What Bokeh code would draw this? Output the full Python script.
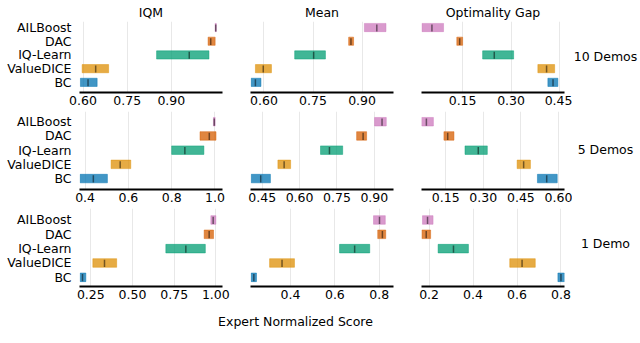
from bokeh.plotting import figure
from bokeh.layouts import column, row
from bokeh.models import ColumnDataSource, FixedTicker, Range1d
from bokeh.core.properties import value
from bokeh.embed import file_html
from bokeh.resources import INLINE

# ---------------- data ----------------
algorithms = ["BC", "ValueDICE", "IQ-Learn", "DAC", "AILBoost"]
colors = ["#0173B2", "#DE8F05", "#029E73", "#D55E00", "#CC78BC"]
metrics = ["IQM", "Mean", "Optimality Gap"]
demo_labels = ["10 Demos", "5 Demos", "1 Demo"]
x_label = "Expert Normalized Score"

# order of values: BC, ValueDICE, IQ-Learn, DAC, AILBoost
# ---- 10 demos
iqm_10_lo = [0.591, 0.597, 0.850, 1.025, 1.049]
iqm_10_pt = [0.617, 0.643, 0.961, 1.034, 1.051]
iqm_10_hi = [0.648, 0.687, 1.028, 1.049, 1.053]
mean_10_lo = [0.561, 0.574, 0.694, 0.859, 0.907]
mean_10_pt = [0.574, 0.598, 0.752, 0.866, 0.945]
mean_10_hi = [0.591, 0.623, 0.788, 0.874, 0.973]
gap_10_lo = [0.414, 0.383, 0.212, 0.132, 0.024]
gap_10_pt = [0.430, 0.410, 0.248, 0.141, 0.055]
gap_10_hi = [0.445, 0.435, 0.308, 0.150, 0.091]
# ---- 5 demos
iqm_5_lo = [0.377, 0.520, 0.800, 0.931, 0.993]
iqm_5_pt = [0.438, 0.562, 0.861, 0.974, 0.997]
iqm_5_hi = [0.503, 0.611, 0.949, 1.005, 1.001]
mean_5_lo = [0.406, 0.513, 0.684, 0.829, 0.901]
mean_5_pt = [0.444, 0.538, 0.720, 0.855, 0.931]
mean_5_hi = [0.483, 0.564, 0.773, 0.869, 0.948]
gap_5_lo = [0.516, 0.435, 0.227, 0.143, 0.054]
gap_5_pt = [0.553, 0.461, 0.280, 0.158, 0.073]
gap_5_hi = [0.595, 0.488, 0.316, 0.183, 0.101]
# ---- 1 demo
iqm_1_lo = [0.186, 0.262, 0.700, 0.930, 0.970]
iqm_1_pt = [0.200, 0.332, 0.820, 0.960, 0.984]
iqm_1_hi = [0.220, 0.405, 0.937, 0.986, 1.000]
mean_1_lo = [0.223, 0.306, 0.621, 0.793, 0.774]
mean_1_pt = [0.235, 0.362, 0.689, 0.814, 0.801]
mean_1_hi = [0.247, 0.418, 0.757, 0.829, 0.827]
gap_1_lo = [0.786, 0.567, 0.241, 0.167, 0.170]
gap_1_pt = [0.800, 0.623, 0.311, 0.187, 0.193]
gap_1_hi = [0.816, 0.683, 0.379, 0.207, 0.218]

# tick values and labels
ticks_iqm_10 = [0.60, 0.75, 0.90]
labels_iqm_10 = ["0.60", "0.75", "0.90"]
ticks_mean_10 = [0.60, 0.75, 0.90]
labels_mean_10 = ["0.60", "0.75", "0.90"]
ticks_gap_10 = [0.15, 0.30, 0.45]
labels_gap_10 = ["0.15", "0.30", "0.45"]
ticks_iqm_5 = [0.4, 0.6, 0.8, 1.0]
labels_iqm_5 = ["0.4", "0.6", "0.8", "1.0"]
ticks_mean_5 = [0.45, 0.60, 0.75, 0.90]
labels_mean_5 = ["0.45", "0.60", "0.75", "0.90"]
ticks_gap_5 = [0.15, 0.30, 0.45, 0.60]
labels_gap_5 = ["0.15", "0.30", "0.45", "0.60"]
ticks_iqm_1 = [0.25, 0.50, 0.75, 1.00]
labels_iqm_1 = ["0.25", "0.50", "0.75", "1.00"]
ticks_mean_1 = [0.4, 0.6, 0.8]
labels_mean_1 = ["0.4", "0.6", "0.8"]
ticks_gap_1 = [0.2, 0.4, 0.6, 0.8]
labels_gap_1 = ["0.2", "0.4", "0.6", "0.8"]

# axis limits
xlim_iqm_10 = (0.588, 1.074)
xlim_mean_10 = (0.559, 0.996)
xlim_gap_10 = (0.0227, 0.4655)
xlim_iqm_5 = (0.374, 1.035)
xlim_mean_5 = (0.403, 0.977)
xlim_gap_5 = (0.0535, 0.624)
xlim_iqm_1 = (0.182, 1.040)
xlim_mean_1 = (0.220, 0.864)
xlim_gap_1 = (0.1655, 0.816)

# ---------------- style / layout ----------------
FONT = "DejaVu Sans"
FS = "12.5px"
BAR_H = 0.6
COL_W = [236, 171, 165]
COL_BL = [79, 14, 14]
COL_BR = [14, 14, 8]
LAB_W = 68
ROW_H = [111, 97, 97]
ROW_TOP = [18, 0, 0]
ROW_BOTTOM = 19
ROW_YR = [(-0.74, 4.44), (-0.77, 4.72), (-0.64, 4.80)]
ROW_LABEL_OFF = [2, -1, -5]


def panel(lo, pt, hi, xlim, ticks, tick_labels, col, r, title=None):
    pos = list(range(len(algorithms)))
    src = ColumnDataSource(dict(
        y=pos, lo=lo, hi=hi, pt=pt, color=colors,
        y0=[v - 7.5 * BAR_H / 16 for v in pos],
        y1=[v + 6 * BAR_H / 16 for v in pos],
    ))
    p = figure(width=COL_W[col], height=ROW_H[r],
               x_range=Range1d(*xlim), y_range=Range1d(*ROW_YR[r]),
               output_backend="svg", toolbar_location=None,
               min_border_left=COL_BL[col], min_border_right=COL_BR[col],
               min_border_top=ROW_TOP[r], min_border_bottom=ROW_BOTTOM,
               title=title)
    if title is None:
        p.title = None
    else:
        p.title.align = "center"
        p.title.text_font = FONT
        p.title.text_font_size = FS
        p.title.text_font_style = "normal"
        p.title.text_color = "black"
        p.title.standoff = 4
        p.title.offset = 0
    p.outline_line_color = None
    p.hbar(y="y", left="lo", right="hi", height=BAR_H, fill_color="color",
           fill_alpha=0.75, line_color="color", line_alpha=0.45, line_width=1,
           source=src)
    p.segment(x0="pt", y0="y0", x1="pt", y1="y1", line_color="black",
              line_alpha=0.5, line_width=1.5, source=src)

    xa = p.xaxis[0]
    xa.ticker = FixedTicker(ticks=ticks)
    xa.major_label_overrides = dict(zip(ticks, tick_labels))
    xa.axis_line_width = 2
    xa.axis_line_color = "black"
    xa.major_tick_out = 0
    xa.major_tick_in = 0
    xa.minor_tick_line_color = None
    xa.major_label_standoff = 3
    xa.major_label_text_font = FONT
    xa.major_label_text_font_size = FS
    xa.major_label_text_color = "black"

    ya = p.yaxis[0]
    if col == 0:
        ya.ticker = FixedTicker(ticks=pos)
        ya.major_label_overrides = {i: a for i, a in zip(pos, algorithms)}
        ya.axis_line_color = None
        ya.major_tick_line_color = None
        ya.minor_tick_line_color = None
        ya.major_tick_out = 0
        ya.major_tick_in = 0
        ya.major_label_standoff = 8
        ya.major_label_text_font = FONT
        ya.major_label_text_font_size = FS
        ya.major_label_text_color = "black"
    else:
        ya.visible = False

    p.ygrid.visible = False
    p.xgrid.grid_line_color = "#e8e8e8"
    p.xgrid.grid_line_width = 1
    return p


def row_label_fig(r):
    p = figure(width=LAB_W, height=ROW_H[r], x_range=Range1d(0, 1),
               y_range=Range1d(*ROW_YR[r]), output_backend="svg",
               toolbar_location=None, x_axis_type=None, y_axis_type=None,
               min_border_left=0, min_border_right=0,
               min_border_top=ROW_TOP[r], min_border_bottom=ROW_BOTTOM)
    p.outline_line_color = None
    p.xgrid.visible = False
    p.ygrid.visible = False
    p.text(x=[0.485], y=[2], text=[demo_labels[r]], y_offset=ROW_LABEL_OFF[r],
           text_align="center", text_baseline="middle",
           text_font=value(FONT), text_font_size=value(FS), text_color="black")
    return p


rows_spec = [
    [(iqm_10_lo, iqm_10_pt, iqm_10_hi, xlim_iqm_10, ticks_iqm_10, labels_iqm_10),
     (mean_10_lo, mean_10_pt, mean_10_hi, xlim_mean_10, ticks_mean_10, labels_mean_10),
     (gap_10_lo, gap_10_pt, gap_10_hi, xlim_gap_10, ticks_gap_10, labels_gap_10)],
    [(iqm_5_lo, iqm_5_pt, iqm_5_hi, xlim_iqm_5, ticks_iqm_5, labels_iqm_5),
     (mean_5_lo, mean_5_pt, mean_5_hi, xlim_mean_5, ticks_mean_5, labels_mean_5),
     (gap_5_lo, gap_5_pt, gap_5_hi, xlim_gap_5, ticks_gap_5, labels_gap_5)],
    [(iqm_1_lo, iqm_1_pt, iqm_1_hi, xlim_iqm_1, ticks_iqm_1, labels_iqm_1),
     (mean_1_lo, mean_1_pt, mean_1_hi, xlim_mean_1, ticks_mean_1, labels_mean_1),
     (gap_1_lo, gap_1_pt, gap_1_hi, xlim_gap_1, ticks_gap_1, labels_gap_1)],
]

layout_rows = []
for r, spec in enumerate(rows_spec):
    figs = []
    for c, (lo, pt, hi, xl, tk, tl) in enumerate(spec):
        figs.append(panel(lo, pt, hi, xl, tk, tl, c, r,
                          title=metrics[c] if r == 0 else None))
    figs.append(row_label_fig(r))
    layout_rows.append(row(*figs))

# x axis label strip
XL_H = 343 - sum(ROW_H)
xl = figure(width=640, height=XL_H, x_range=Range1d(0, 640), y_range=Range1d(0, XL_H),
            output_backend="svg", toolbar_location=None,
            x_axis_type=None, y_axis_type=None, min_border=0)
xl.outline_line_color = None
xl.xgrid.visible = False
xl.ygrid.visible = False
xl.text(x=[295], y=[XL_H - 16], text=[x_label], text_align="center", text_baseline="middle",
        text_font=value(FONT), text_font_size=value(FS), text_color="black")

page = column(*layout_rows, xl)

open("out.html", "w").write(file_html(page, INLINE))
